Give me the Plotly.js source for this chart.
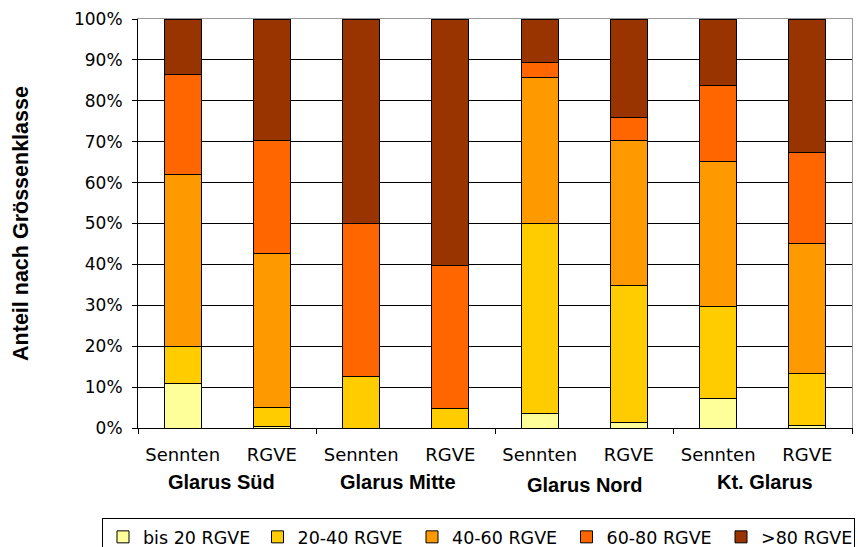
<!DOCTYPE html>
<html>
<head>
<meta charset="utf-8">
<script src="https://cdn.plot.ly/plotly-3.0.1.min.js"></script>
<style>html,body{margin:0;padding:0;background:#fff;}#chart{width:858px;height:547px;}</style>
</head>
<body>
<div id="chart"></div>
<script>
// Categories
const subLabels = ["Sennten", "RGVE", "Sennten", "RGVE", "Sennten", "RGVE", "Sennten", "RGVE"];
const groupLabels = ["Glarus Süd", "Glarus Mitte", "Glarus Nord", "Kt. Glarus"];
const seriesNames = ["bis 20 RGVE", "20-40 RGVE", "40-60 RGVE", "60-80 RGVE", ">80 RGVE"];

// Shares in percent
const bis20   = [10.8, 0.3, 0,    0,    3.6,  1.4,  7.3,  0.7];
const r20_40  = [9.1,  4.8, 12.5, 4.7,  46.4, 33.5, 22.3, 12.7];
const r40_60  = [42.1, 37.5, 0,   0,    35.7, 35.5, 35.6, 31.7];
const r60_80  = [24.4, 27.8, 37.5, 35.1, 3.6, 5.4,  18.6, 22.3];
const gt80    = [13.6, 29.6, 50.0, 60.2, 10.7, 24.2, 16.2, 32.6];

const yTickVals = [0, 10, 20, 30, 40, 50, 60, 70, 80, 90, 100];
const yTickText = ["0%", "10%", "20%", "30%", "40%", "50%", "60%", "70%", "80%", "90%", "100%"];

const seriesValues = [bis20, r20_40, r40_60, r60_80, gt80];
const colors = ["#FFFF99", "#FFCC00", "#FF9900", "#FF6600", "#993300"];

const xPos = subLabels.map((_, i) => i);

const traces = seriesValues.map((vals, k) => {
  const t = {
    type: "bar",
    name: seriesNames[k],
    x: xPos,
    y: vals,
    xaxis: "x",
    yaxis: "y",
    marker: {color: colors[k], line: {color: "#000", width: 1}},
    hoverinfo: "skip"
  };
  if (k === seriesValues.length - 1) t.legendwidth = 88;
  return t;
});

// invisible helper trace for label axis
traces.push({type: "scatter", x: xPos, y: xPos.map(() => null), xaxis: "x2", yaxis: "y", showlegend: false, hoverinfo: "skip"});
// helper trace for border axes
traces.push({type: "scatter", x: [0], y: [null], xaxis: "x3", yaxis: "y2", showlegend: false, hoverinfo: "skip"});

const groupAnn = groupLabels.map((g, i) => ({
  text: "<b>" + g + "</b>",
  x: 2 * i + 0.5,
  xref: "x",
  y: -0.132,
  yref: "paper",
  yanchor: "middle",
  xanchor: "center",
  showarrow: false,
  font: {family: "Liberation Sans, Arial, sans-serif", size: 20, color: "#000"},
  xshift: [-6, -8, 1, 2][i],
  yshift: [0, 0, -3, 0][i]
}));

const layout = {
  width: 858,
  height: 547,
  margin: {l: 138, r: 6, t: 19, b: 119, pad: 0, autoexpand: false},
  paper_bgcolor: "#fff",
  plot_bgcolor: "#fff",
  barmode: "stack",
  bargap: 0.585,
  showlegend: true,
  legend: {
    orientation: "h",
    x: -0.0504, xanchor: "left",
    y: -0.22, yanchor: "top",
    traceorder: "normal",
    bordercolor: "#000",
    borderwidth: 1,
    entrywidth: 109.5,
    entrywidthmode: "pixels",
    font: {family: "DejaVu Sans, Verdana, sans-serif", size: 17.5, color: "#000"}
  },
  xaxis: {
    range: [-0.5, 7.5],
    tickmode: "array",
    tickvals: [-0.5, 1.5, 3.5, 5.5, 7.5],
    showticklabels: false,
    ticks: "outside",
    ticklen: 5,
    tickcolor: "#000",
    showline: true,
    linecolor: "#000",
    linewidth: 1,
    showgrid: false,
    zeroline: false,
    fixedrange: true
  },
  xaxis2: {
    overlaying: "x",
    anchor: "y",
    side: "bottom",
    range: [-0.5, 7.5],
    tickmode: "array",
    tickvals: xPos,
    ticktext: subLabels,
    ticks: "",
    ticklabelstandoff: 14,
    showline: false,
    showgrid: false,
    zeroline: false,
    tickfont: {family: "DejaVu Sans, Verdana, sans-serif", size: 18, color: "#000"},
    fixedrange: true
  },
  xaxis3: {
    overlaying: "x",
    anchor: "y2",
    side: "top",
    range: [-0.5, 7.5],
    showticklabels: false,
    ticks: "",
    showline: true,
    linecolor: "#999",
    linewidth: 1,
    showgrid: false,
    zeroline: false
  },
  yaxis: {
    range: [0, 100],
    tickmode: "array",
    tickvals: yTickVals,
    ticktext: yTickText,
    ticks: "outside",
    ticklen: 5,
    tickcolor: "#000",
    ticklabelstandoff: 6,
    showline: true,
    linecolor: "#000",
    linewidth: 1,
    showgrid: true,
    gridcolor: "#000",
    gridwidth: 1,
    zeroline: false,
    tickfont: {family: "DejaVu Sans, Verdana, sans-serif", size: 17, color: "#000"},
    title: {text: "<b>Anteil nach Grössenklasse</b>", font: {family: "Liberation Sans, Arial, sans-serif", size: 21.5, color: "#000"}, standoff: 39},
    fixedrange: true
  },
  yaxis2: {
    overlaying: "y",
    side: "right",
    anchor: "x",
    range: [0, 100],
    showticklabels: false,
    ticks: "",
    showline: true,
    linecolor: "#999",
    linewidth: 1,
    showgrid: false,
    zeroline: false
  },
  annotations: groupAnn
};

Plotly.newPlot("chart", traces, layout, {displayModeBar: false, staticPlot: true});
</script>
</body>
</html>
